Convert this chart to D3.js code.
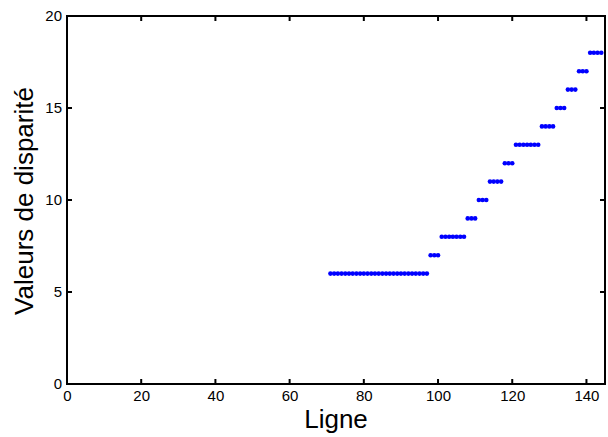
<!DOCTYPE html>
<html><head><meta charset="utf-8">
<script src="https://cdn.jsdelivr.net/npm/d3@7"></script>
<style>body{margin:0;background:#fff;} text{font-family:"Liberation Sans",Arial,sans-serif;}</style>
</head><body>
<svg id="c" width="608" height="437" xmlns="http://www.w3.org/2000/svg"></svg>
<script>
// Data: runs of (start line, end line, disparity value)
const runStart = [71, 98, 101, 108, 111, 114, 118, 121, 128, 132, 135, 138, 141];
const runEnd   = [97, 100, 107, 110, 113, 117, 120, 127, 131, 134, 137, 140, 144];
const runValue = [6, 7, 8, 9, 10, 11, 12, 13, 14, 15, 16, 17, 18];
const xTicks = [0, 20, 40, 60, 80, 100, 120, 140];
const yTicks = [0, 5, 10, 15, 20];

const points = [];
runStart.forEach((s, i) => { for (let x = s; x <= runEnd[i]; x++) points.push({x, y: runValue[i]}); });

const svg = d3.select("#c");
const L = 67, R = 605, T = 16, B = 384;
const x = d3.scaleLinear().domain([0, 145]).range([L, R]);
const y = d3.scaleLinear().domain([0, 20]).range([B, T]);

// Frame + ticks as one stroked path
const tl = 5;
let d = `M${L},${T}H${R}V${B}H${L}Z`;
xTicks.forEach(v => { d += `M${x(v)},${B}v${-tl}M${x(v)},${T}v${tl}`; });
yTicks.forEach(v => { d += `M${L},${y(v)}h${tl}M${R},${y(v)}h${-tl}`; });
svg.append("path").attr("d", d).attr("fill", "none").attr("stroke", "black").attr("stroke-width", 2);

svg.append("g").selectAll("circle").data(points).enter().append("circle")
  .attr("cx", p => x(p.x)).attr("cy", p => y(p.y)).attr("r", 2.3).attr("fill", "#0000ff");

// Tick labels via d3 axes (domain/tick lines hidden)
const xb = svg.append("g").attr("transform", `translate(0,${B})`)
  .call(d3.axisBottom(x).tickValues(xTicks).tickSize(0).tickPadding(6));
const yl = svg.append("g").attr("transform", `translate(${L},0)`)
  .call(d3.axisLeft(y).tickValues(yTicks).tickSize(0).tickPadding(5));
[xb, yl].forEach(a => {
  a.select(".domain").remove();
  a.selectAll(".tick line").remove();
  a.selectAll("text").attr("font-size", 15).attr("fill", "#000")
    .attr("font-family", "Liberation Sans, Arial, sans-serif");
});

svg.append("text").attr("x", 336).attr("y", 428).attr("text-anchor", "middle")
  .attr("font-size", 26).attr("fill", "#000").text("Ligne");
svg.append("text").attr("transform", "translate(33,201) rotate(-90)").attr("text-anchor", "middle")
  .attr("font-size", 26).attr("fill", "#000").text("Valeurs de disparité");
</script>
</body></html>
